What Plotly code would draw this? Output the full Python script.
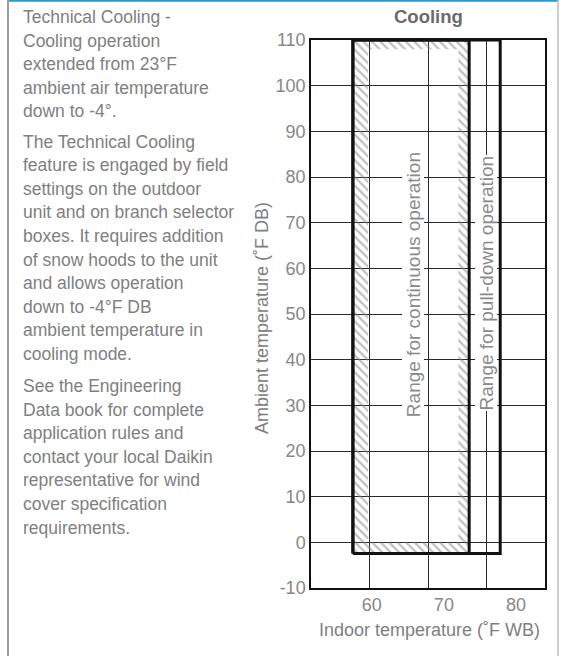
import plotly.graph_objects as go

# Operating envelope: indoor wet-bulb (°F WB) vs ambient dry-bulb (°F DB)
continuous_wb = [57.4, 73.5]      # range for continuous operation
pulldown_wb = [57.4, 77.8]        # range for pull-down operation
ambient_db = [-2.45, 110]         # ambient limits of both ranges
hatch_inner_wb = [59.5, 72.0]     # inner edge of the hatched border
hatch_inner_db = [0, 108]

x_range = [51.6, 84.0]
y_range = [-10, 110]
x_ticks = [60, 70, 80]
y_ticks = list(range(-10, 111, 10))
y_tick_labels = [str(v) for v in y_ticks]
grid_divisions = 4                # evenly spaced vertical grid lines

intro_lines = [
    ["Technical Cooling -", "Cooling operation", "extended from 23°F",
     "ambient air temperature", "down to -4°."],
    ["The Technical Cooling", "feature is engaged by field",
     "settings on the outdoor", "unit and on branch selector",
     "boxes. It requires addition", "of snow hoods to the unit",
     "and allows operation", "down to -4°F DB",
     "ambient temperature in", "cooling mode."],
    ["See the Engineering", "Data book for complete",
     "application rules and", "contact your local Daikin",
     "representative for wind", "cover specification",
     "requirements."],
]

W, H = 562, 656
L, R, T, B = 311, 17, 40, 68
PW, PH = W - L - R, H - T - B
FONT = "Liberation Sans"
GREY = "#808080"
TICK_GREY = "#878787"


def px_x(p):
    return (p - L) / PW


def px_y(p):
    return (H - B - p) / PH


def rect(xs, ys):
    return [xs[0], xs[0], xs[1], xs[1], xs[0]], [ys[0], ys[1], ys[1], ys[0], ys[0]]


fig = go.Figure()

# hatched border of the continuous range (outer ring minus inner box)
ox, oy = rect(continuous_wb, ambient_db)
ix = [hatch_inner_wb[0], hatch_inner_wb[1], hatch_inner_wb[1], hatch_inner_wb[0], hatch_inner_wb[0]]
iy = [hatch_inner_db[0], hatch_inner_db[0], hatch_inner_db[1], hatch_inner_db[1], hatch_inner_db[0]]
fig.add_trace(go.Scatter(
    x=ox + ix + [ox[0]], y=oy + iy + [oy[0]],
    mode="lines", fill="toself", line=dict(width=0, color="rgba(0,0,0,0)"),
    fillcolor="rgba(0,0,0,0)",
    fillpattern=dict(shape="\\", fgcolor="#858585", bgcolor="rgba(0,0,0,0)",
                     size=6, solidity=0.4),
    hoverinfo="skip", showlegend=False,
))

for xs in (continuous_wb, pulldown_wb):
    rx, ry = rect(xs, ambient_db)
    fig.add_trace(go.Scatter(x=rx, y=ry, mode="lines",
                             line=dict(color="#111111", width=3),
                             hoverinfo="skip", showlegend=False))

annotations = []
starts = [17, 141.5, 386]
for para, y0 in zip(intro_lines, starts):
    for i, line in enumerate(para):
        annotations.append(dict(
            text=line, xref="paper", yref="paper",
            x=px_x(21), y=px_y(y0 + i * 23.6), xanchor="left", yanchor="middle",
            showarrow=False, font=dict(family=FONT, size=17.5, color=GREY)))

annotations += [
    dict(text="<b>Cooling</b>", xref="paper", yref="paper", x=px_x(428), y=px_y(17),
         xanchor="center", yanchor="middle", showarrow=False,
         font=dict(family=FONT, size=18.5, color="#6b6b6b")),
    dict(text="Ambient temperature (˚F DB)", xref="paper", yref="paper",
         x=px_x(262), y=px_y(318), textangle=-90, xanchor="center", yanchor="middle",
         showarrow=False, font=dict(family=FONT, size=18, color=GREY)),
    dict(text="Indoor temperature (˚F WB)", xref="paper", yref="paper",
         x=px_x(429), y=px_y(630), xanchor="center", yanchor="middle",
         showarrow=False, font=dict(family=FONT, size=18, color=GREY)),
    dict(text="Range for continuous operation", xref="x", yref="y",
         x=65.7, y=56.5, textangle=-90, showarrow=False, bgcolor="white", borderpad=0,
         font=dict(family=FONT, size=19, color="#8a8a8a")),
    dict(text="Range for pull-down operation", xref="x2", yref="y",
         x=3, y=56.8, textangle=-90, showarrow=False, bgcolor="white", borderpad=0,
         font=dict(family=FONT, size=19, color="#8a8a8a")),
]

shapes = [
    dict(type="line", xref="paper", yref="paper", x0=px_x(8), x1=px_x(558),
         y0=px_y(0.8), y1=px_y(0.8), line=dict(color="#1a9fdc", width=2)),
    dict(type="line", xref="paper", yref="paper", x0=px_x(8), x1=px_x(8),
         y0=px_y(0), y1=px_y(H), line=dict(color="#9c9c9c", width=2)),
    dict(type="line", xref="paper", yref="paper", x0=px_x(558), x1=px_x(558),
         y0=px_y(0), y1=px_y(H), line=dict(color="#bdbdbd", width=1.5)),
]

fig.update_layout(
    width=W, height=H, autosize=False,
    margin=dict(l=L, r=R, t=T, b=B, pad=0),
    paper_bgcolor="white", plot_bgcolor="white",
    font=dict(family=FONT, color=GREY),
    showlegend=False,
    annotations=annotations, shapes=shapes,
    xaxis=dict(range=x_range, tickvals=x_ticks, ticks="", showgrid=False,
               zeroline=False, showline=True, linecolor="#111111", linewidth=1.5,
               mirror=True, tickfont=dict(family=FONT, size=18, color=TICK_GREY),
               automargin=False, fixedrange=True),
    xaxis2=dict(range=[0, grid_divisions], dtick=1, overlaying="x", side="top",
                showticklabels=False, ticks="", showgrid=True, gridcolor="#2a2a2a",
                gridwidth=1, zeroline=False, showline=False, automargin=False),
    yaxis=dict(range=y_range, tickvals=y_ticks, ticktext=y_tick_labels, ticks="",
               showgrid=True, gridcolor="#2a2a2a", gridwidth=1, zeroline=False,
               showline=True, linecolor="#111111", linewidth=1.5, mirror=True,
               tickfont=dict(family=FONT, size=18, color=TICK_GREY),
               automargin=False, fixedrange=True),
)

fig.write_html("out.html")
